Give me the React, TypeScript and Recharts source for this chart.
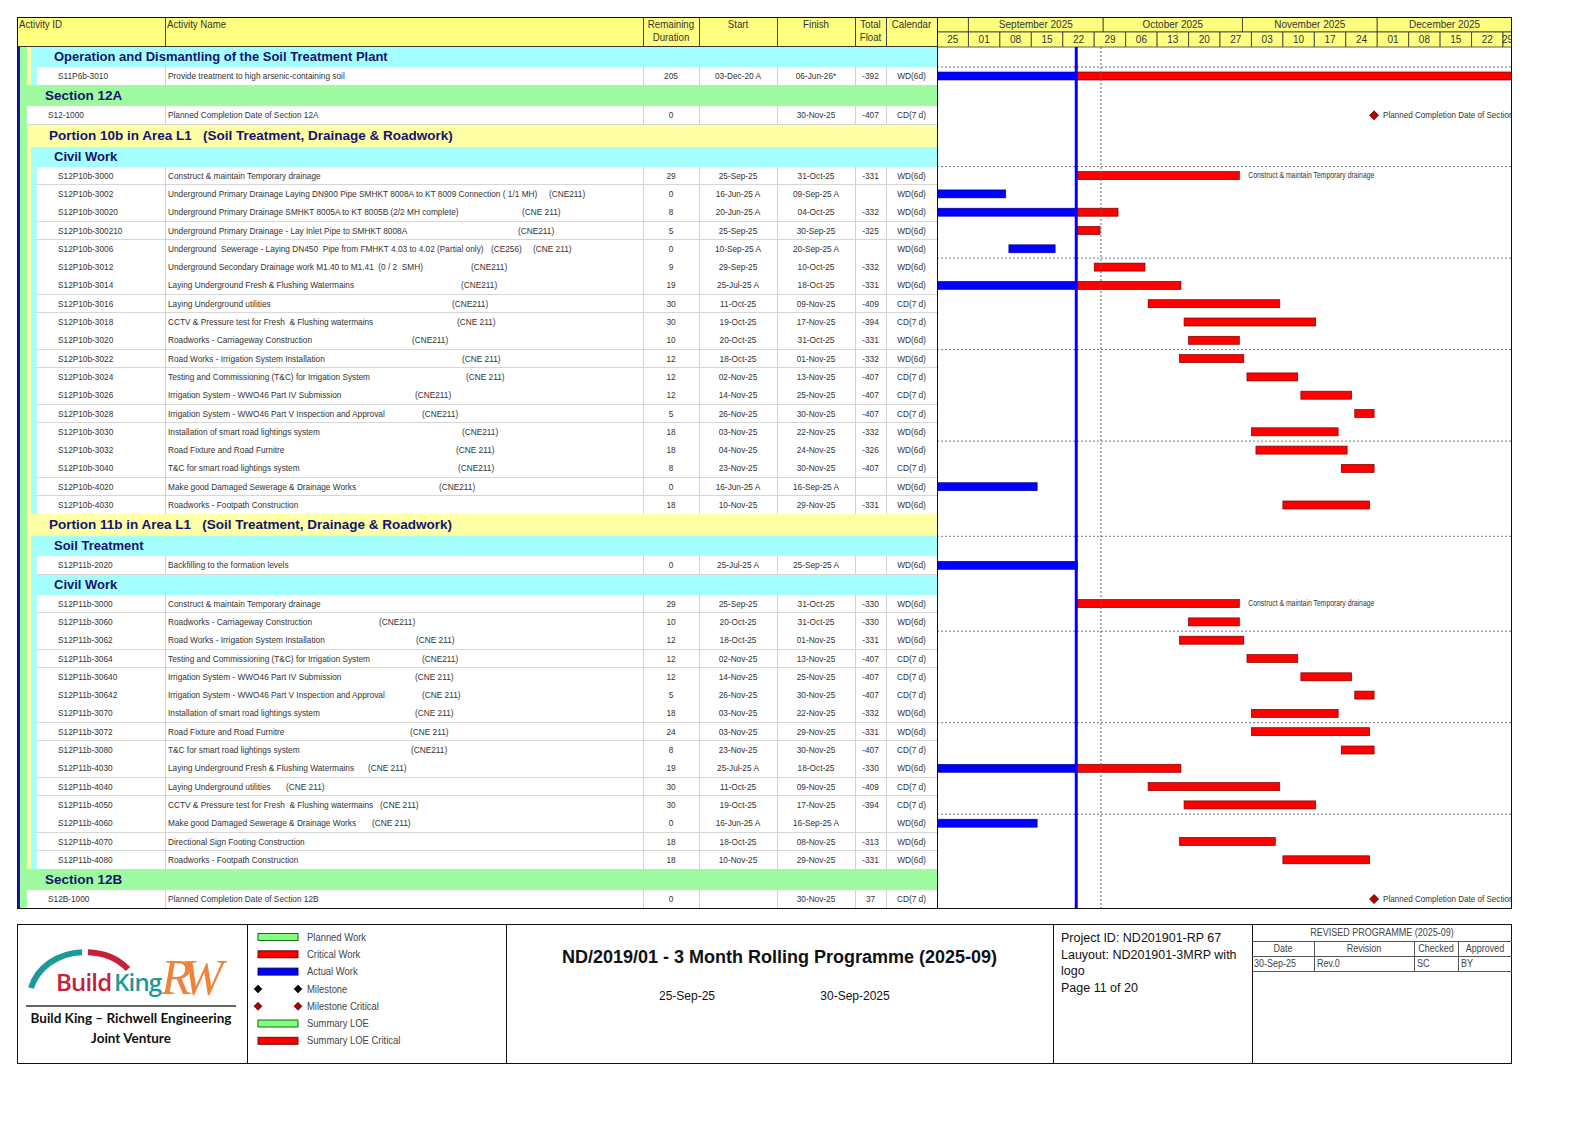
import React from 'react';
import { BarChart, Bar, XAxis, YAxis, ReferenceLine, ReferenceArea } from 'recharts';

type Activity = {
  id: string;
  name: string;
  tags?: string[];
  rem: number;
  start: string;
  finish: string;
  float: string;
  cal: string;
};
type Band = 'green' | 'yellow' | 'cyan';

// ---- timeline ----
const TIMELINE_START = '25-Aug-25';
const TIMELINE_DAYS = 128;
const DATA_DATE = '25-Sep-25';
const REPORT_DATE = '30-Sep-25';

const monthLabels = ['', 'September 2025', 'October 2025', 'November 2025', 'December 2025'];
const monthStarts = ['25-Aug-25', '01-Sep-25', '01-Oct-25', '01-Nov-25', '01-Dec-25'];
const weekLabels = ['25', '01', '08', '15', '22', '29', '06', '13', '20', '27', '03', '10', '17', '24', '01', '08', '15', '22', '29'];

// ---- activities ----
const operationActs: Activity[] = [
  { id: 'S11P6b-3010', name: 'Provide treatment to high arsenic-containing soil', rem: 205, start: '03-Dec-20 A', finish: '06-Jun-26*', float: '-392', cal: 'WD(6d)' },
];

const section12AActs: Activity[] = [
  { id: 'S12-1000', name: 'Planned Completion Date of Section 12A', rem: 0, start: '', finish: '30-Nov-25', float: '-407', cal: 'CD(7 d)' },
];

const p10bCivilActs: Activity[] = [
  { id: 'S12P10b-3000', name: 'Construct & maintain Temporary drainage', rem: 29, start: '25-Sep-25', finish: '31-Oct-25', float: '-331', cal: 'WD(6d)' },
  { id: 'S12P10b-3002', name: 'Underground Primary Drainage Laying DN900 Pipe SMHKT 8008A to KT 8009 Connection ( 1/1 MH)', tags: ['(CNE211)'], rem: 0, start: '16-Jun-25 A', finish: '09-Sep-25 A', float: '', cal: 'WD(6d)' },
  { id: 'S12P10b-30020', name: 'Underground Primary Drainage SMHKT 8005A to KT 8005B (2/2 MH complete)', tags: ['(CNE 211)'], rem: 8, start: '20-Jun-25 A', finish: '04-Oct-25', float: '-332', cal: 'WD(6d)' },
  { id: 'S12P10b-300210', name: 'Underground Primary Drainage - Lay Inlet Pipe to SMHKT 8008A', tags: ['(CNE211)'], rem: 5, start: '25-Sep-25', finish: '30-Sep-25', float: '-325', cal: 'WD(6d)' },
  { id: 'S12P10b-3006', name: 'Underground  Sewerage - Laying DN450  Pipe from FMHKT 4.03 to 4.02 (Partial only)', tags: ['(CE256)', '(CNE 211)'], rem: 0, start: '10-Sep-25 A', finish: '20-Sep-25 A', float: '', cal: 'WD(6d)' },
  { id: 'S12P10b-3012', name: 'Underground Secondary Drainage work M1.40 to M1.41  (0 / 2  SMH)', tags: ['(CNE211)'], rem: 9, start: '29-Sep-25', finish: '10-Oct-25', float: '-332', cal: 'WD(6d)' },
  { id: 'S12P10b-3014', name: 'Laying Underground Fresh & Flushing Watermains', tags: ['(CNE211)'], rem: 19, start: '25-Jul-25 A', finish: '18-Oct-25', float: '-331', cal: 'WD(6d)' },
  { id: 'S12P10b-3016', name: 'Laying Underground utilities', tags: ['(CNE211)'], rem: 30, start: '11-Oct-25', finish: '09-Nov-25', float: '-409', cal: 'CD(7 d)' },
  { id: 'S12P10b-3018', name: 'CCTV & Pressure test for Fresh  & Flushing watermains', tags: ['(CNE 211)'], rem: 30, start: '19-Oct-25', finish: '17-Nov-25', float: '-394', cal: 'CD(7 d)' },
  { id: 'S12P10b-3020', name: 'Roadworks - Carriageway Construction', tags: ['(CNE211)'], rem: 10, start: '20-Oct-25', finish: '31-Oct-25', float: '-331', cal: 'WD(6d)' },
  { id: 'S12P10b-3022', name: 'Road Works - Irrigation System Installation', tags: ['(CNE 211)'], rem: 12, start: '18-Oct-25', finish: '01-Nov-25', float: '-332', cal: 'WD(6d)' },
  { id: 'S12P10b-3024', name: 'Testing and Commissioning (T&C) for Irrigation System', tags: ['(CNE 211)'], rem: 12, start: '02-Nov-25', finish: '13-Nov-25', float: '-407', cal: 'CD(7 d)' },
  { id: 'S12P10b-3026', name: 'Irrigation System - WWO46 Part IV Submission', tags: ['(CNE211)'], rem: 12, start: '14-Nov-25', finish: '25-Nov-25', float: '-407', cal: 'CD(7 d)' },
  { id: 'S12P10b-3028', name: 'Irrigation System - WWO46 Part V Inspection and Approval', tags: ['(CNE211)'], rem: 5, start: '26-Nov-25', finish: '30-Nov-25', float: '-407', cal: 'CD(7 d)' },
  { id: 'S12P10b-3030', name: 'Installation of smart road lightings system', tags: ['(CNE211)'], rem: 18, start: '03-Nov-25', finish: '22-Nov-25', float: '-332', cal: 'WD(6d)' },
  { id: 'S12P10b-3032', name: 'Road Fixture and Road Furnitre', tags: ['(CNE 211)'], rem: 18, start: '04-Nov-25', finish: '24-Nov-25', float: '-326', cal: 'WD(6d)' },
  { id: 'S12P10b-3040', name: 'T&C for smart road lightings system', tags: ['(CNE211)'], rem: 8, start: '23-Nov-25', finish: '30-Nov-25', float: '-407', cal: 'CD(7 d)' },
  { id: 'S12P10b-4020', name: 'Make good Damaged Sewerage & Drainage Works', tags: ['(CNE211)'], rem: 0, start: '16-Jun-25 A', finish: '16-Sep-25 A', float: '', cal: 'WD(6d)' },
  { id: 'S12P10b-4030', name: 'Roadworks - Footpath Construction', rem: 18, start: '10-Nov-25', finish: '29-Nov-25', float: '-331', cal: 'WD(6d)' },
];

const p11bSoilActs: Activity[] = [
  { id: 'S12P11b-2020', name: 'Backfilling to the formation levels', rem: 0, start: '25-Jul-25 A', finish: '25-Sep-25 A', float: '', cal: 'WD(6d)' },
];

const p11bCivilActs: Activity[] = [
  { id: 'S12P11b-3000', name: 'Construct & maintain Temporary drainage', rem: 29, start: '25-Sep-25', finish: '31-Oct-25', float: '-330', cal: 'WD(6d)' },
  { id: 'S12P11b-3060', name: 'Roadworks - Carriageway Construction', tags: ['(CNE211)'], rem: 10, start: '20-Oct-25', finish: '31-Oct-25', float: '-330', cal: 'WD(6d)' },
  { id: 'S12P11b-3062', name: 'Road Works - Irrigation System Installation', tags: ['(CNE 211)'], rem: 12, start: '18-Oct-25', finish: '01-Nov-25', float: '-331', cal: 'WD(6d)' },
  { id: 'S12P11b-3064', name: 'Testing and Commissioning (T&C) for Irrigation System', tags: ['(CNE211)'], rem: 12, start: '02-Nov-25', finish: '13-Nov-25', float: '-407', cal: 'CD(7 d)' },
  { id: 'S12P11b-30640', name: 'Irrigation System - WWO46 Part IV Submission', tags: ['(CNE 211)'], rem: 12, start: '14-Nov-25', finish: '25-Nov-25', float: '-407', cal: 'CD(7 d)' },
  { id: 'S12P11b-30642', name: 'Irrigation System - WWO46 Part V Inspection and Approval', tags: ['(CNE 211)'], rem: 5, start: '26-Nov-25', finish: '30-Nov-25', float: '-407', cal: 'CD(7 d)' },
  { id: 'S12P11b-3070', name: 'Installation of smart road lightings system', tags: ['(CNE 211)'], rem: 18, start: '03-Nov-25', finish: '22-Nov-25', float: '-332', cal: 'WD(6d)' },
  { id: 'S12P11b-3072', name: 'Road Fixture and Road Furnitre', tags: ['(CNE 211)'], rem: 24, start: '03-Nov-25', finish: '29-Nov-25', float: '-331', cal: 'WD(6d)' },
  { id: 'S12P11b-3080', name: 'T&C for smart road lightings system', tags: ['(CNE211)'], rem: 8, start: '23-Nov-25', finish: '30-Nov-25', float: '-407', cal: 'CD(7 d)' },
  { id: 'S12P11b-4030', name: 'Laying Underground Fresh & Flushing Watermains', tags: ['(CNE 211)'], rem: 19, start: '25-Jul-25 A', finish: '18-Oct-25', float: '-330', cal: 'WD(6d)' },
  { id: 'S12P11b-4040', name: 'Laying Underground utilities', tags: ['(CNE 211)'], rem: 30, start: '11-Oct-25', finish: '09-Nov-25', float: '-409', cal: 'CD(7 d)' },
  { id: 'S12P11b-4050', name: 'CCTV & Pressure test for Fresh  & Flushing watermains', tags: ['(CNE 211)'], rem: 30, start: '19-Oct-25', finish: '17-Nov-25', float: '-394', cal: 'CD(7 d)' },
  { id: 'S12P11b-4060', name: 'Make good Damaged Sewerage & Drainage Works', tags: ['(CNE 211)'], rem: 0, start: '16-Jun-25 A', finish: '16-Sep-25 A', float: '', cal: 'WD(6d)' },
  { id: 'S12P11b-4070', name: 'Directional Sign Footing Construction', rem: 18, start: '18-Oct-25', finish: '08-Nov-25', float: '-313', cal: 'WD(6d)' },
  { id: 'S12P11b-4080', name: 'Roadworks - Footpath Construction', rem: 18, start: '10-Nov-25', finish: '29-Nov-25', float: '-331', cal: 'WD(6d)' },
];

const section12BActs: Activity[] = [
  { id: 'S12B-1000', name: 'Planned Completion Date of Section 12B', rem: 0, start: '', finish: '30-Nov-25', float: '37', cal: 'CD(7 d)' },
];

const outline: { band: Band; title: string; acts: Activity[] }[] = [
  { band: 'cyan', title: 'Operation and Dismantling of the Soil Treatment Plant', acts: operationActs },
  { band: 'green', title: 'Section 12A', acts: section12AActs },
  { band: 'yellow', title: 'Portion 10b in Area L1   (Soil Treatment, Drainage & Roadwork)', acts: [] },
  { band: 'cyan', title: 'Civil Work', acts: p10bCivilActs },
  { band: 'yellow', title: 'Portion 11b in Area L1   (Soil Treatment, Drainage & Roadwork)', acts: [] },
  { band: 'cyan', title: 'Soil Treatment', acts: p11bSoilActs },
  { band: 'cyan', title: 'Civil Work', acts: p11bCivilActs },
  { band: 'green', title: 'Section 12B', acts: section12BActs },
];

// activities whose bar carries its name in the gantt
const barLabelIds = ['S12-1000', 'S12P10b-3000', 'S12P11b-3000', 'S12B-1000'];

const legendItems = ['Planned Work', 'Critical Work', 'Actual Work', 'Milestone', 'Milestone Critical', 'Summary LOE', 'Summary LOE Critical'];

// ---- layout (page px) ----
const NARROW = "'Liberation Sans Narrow', 'Arial Narrow', 'Liberation Sans', Arial, sans-serif";
const ARIAL = "'Liberation Sans', Arial, sans-serif";
const FRAME_X = 17;
const FRAME_Y = 17;
const FRAME_R = 1512;
const FRAME_B = 909;
const HEADER_H = 30;
const BODY_TOP = FRAME_Y + HEADER_H;
const GANTT_X = 937;
const ACT_H = 18.3;
const BAR_H = 8;
const COL_LINES = [165, 643, 699, 777, 855, 886];
const NAVY = '#141470';
const TXT_SX = 0.92;

const BAND_STYLE: Record<Band, { h: number; x: number; textX: number; size: number; bg: string }> = {
  green: { h: 21, x: 20, textX: 45, size: 13.5, bg: '#9ffb9f' },
  yellow: { h: 22, x: 27, textX: 49, size: 13.5, bg: '#ffffa6' },
  cyan: { h: 20, x: 31, textX: 54, size: 13, bg: '#a6ffff' },
};
const STRIPS = [
  { x0: 17, x1: 20, bg: '#1a1a9a' },
  { x0: 20, x1: 27, bg: '#9ffb9f' },
  { x0: 27, x1: 31, bg: '#ffffa6' },
  { x0: 31, x1: 37, bg: '#a6ffff' },
];
const TAG_X: Record<string, number[]> = {
  'S12P10b-3002': [549], 'S12P10b-30020': [522], 'S12P10b-300210': [518], 'S12P10b-3006': [491, 533],
  'S12P10b-3012': [471], 'S12P10b-3014': [461], 'S12P10b-3016': [452], 'S12P10b-3018': [457],
  'S12P10b-3020': [412], 'S12P10b-3022': [462], 'S12P10b-3024': [466], 'S12P10b-3026': [415],
  'S12P10b-3028': [422], 'S12P10b-3030': [462], 'S12P10b-3032': [456], 'S12P10b-3040': [458],
  'S12P10b-4020': [439],
  'S12P11b-3060': [379], 'S12P11b-3062': [416], 'S12P11b-3064': [422], 'S12P11b-30640': [415],
  'S12P11b-30642': [422], 'S12P11b-3070': [415], 'S12P11b-3072': [410], 'S12P11b-3080': [411],
  'S12P11b-4030': [368], 'S12P11b-4040': [286], 'S12P11b-4050': [380], 'S12P11b-4060': [372],
};

// ---- date helpers ----
const MONTHS = ['Jan', 'Feb', 'Mar', 'Apr', 'May', 'Jun', 'Jul', 'Aug', 'Sep', 'Oct', 'Nov', 'Dec'];
function utc(s: string): number {
  const m = /(\d{1,2})-([A-Za-z]{3})-(\d{2})/.exec(s);
  if (!m) return NaN;
  return Date.UTC(2000 + Number(m[3]), MONTHS.indexOf(m[2]), Number(m[1]));
}
const DAY0 = utc(TIMELINE_START);
const dayOf = (s: string) => Math.round((utc(s) - DAY0) / 86400000);
const FINISH_OFFSET = 0.3;
const dd = dayOf(DATA_DATE);

function spans(a: Activity) {
  const f = dayOf(a.finish) + FINISH_OFFSET;
  if (!a.start) return { ms: [f, f] };
  const s = dayOf(a.start);
  const sAct = /A$/.test(a.start);
  const fAct = /A$/.test(a.finish);
  if (sAct && fAct) return { act: [s, f] };
  if (sAct) return { act: [s, dd], rem: [dd, f] };
  return { rem: [s, f] };
}

// ---- row layout ----
type Laid = { kind: 'band' | 'act'; band: Band; title?: string; act?: Activity; top: number; h: number };
const laid: Laid[] = [];
{
  let y = BODY_TOP;
  for (const sec of outline) {
    const bs = BAND_STYLE[sec.band];
    laid.push({ kind: 'band', band: sec.band, title: sec.title, top: y, h: bs.h });
    y += bs.h;
    for (const a of sec.acts) {
      laid.push({ kind: 'act', band: sec.band, act: a, top: y, h: ACT_H });
      y += ACT_H;
    }
  }
}
const rowStart = (r: Laid) => (r.kind === 'band' ? BAND_STYLE[r.band].x : r.band === 'green' ? 27 : 37);

const ganttData = laid.map((r) => ({
  yc: r.top + r.h / 2,
  ...(r.act ? spans(r.act) : {}),
  label: r.act && barLabelIds.includes(r.act.id) ? r.act.name : undefined,
}));
const sightLines = laid.filter((_, i) => i % 5 === 1).map((r) => r.top);

// ---- small helpers ----
function Box(p: { x: number; y: number; w: number; h: number; style?: React.CSSProperties; children?: React.ReactNode }) {
  return (
    <div style={{ position: 'absolute', left: p.x, top: p.y, width: p.w, height: p.h, boxSizing: 'border-box', ...p.style }}>
      {p.children}
    </div>
  );
}
function Txt(p: {
  x: number; y: number; w?: number; h: number; align?: 'left' | 'center'; size?: number; bold?: boolean;
  color?: string; font?: string; sx?: number; children: React.ReactNode;
}) {
  const align = p.align || 'left';
  return (
    <div
      style={{
        position: 'absolute', left: p.x, top: p.y, width: p.w, height: p.h, lineHeight: `${p.h}px`,
        textAlign: align, fontSize: p.size || 9, fontWeight: p.bold ? 700 : 400,
        color: p.color || '#333', fontFamily: p.font || NARROW, whiteSpace: 'pre',
        transform: p.sx ? `scaleX(${p.sx})` : undefined,
        transformOrigin: align === 'left' ? 'left center' : 'center center',
      }}
    >
      {p.children}
    </div>
  );
}

// ---- gantt shapes ----
function SmallText(p: { x: number; y: number; text: string; sx: number }) {
  return (
    <text transform={`translate(${p.x},${p.y}) scale(${p.sx},1)`} dominantBaseline="central" fontSize={9} fill="#333" fontFamily={NARROW}>
      {p.text}
    </text>
  );
}
function ActualShape(p: any) {
  const { x, y, width, height } = p;
  if (!(width > 0) || !Number.isFinite(x) || !Number.isFinite(y)) return <g />;
  return <rect x={x} y={y} width={width} height={height} fill="#0000ff" stroke="#00007a" strokeWidth={0.6} />;
}
function RemainingShape(p: any) {
  const { x, y, width, height, payload } = p;
  if (!(width > 0) || !Number.isFinite(x) || !Number.isFinite(y)) return <g />;
  return (
    <g>
      <rect x={x} y={y} width={width} height={height} fill="#ff0000" stroke="#7a0000" strokeWidth={0.7} />
      {payload && payload.label ? <SmallText x={x + width + 9} y={y + height / 2} text={payload.label} sx={0.76} /> : null}
    </g>
  );
}
function MilestoneShape(p: any) {
  const { x, y, height, payload } = p;
  if (!payload || !payload.ms || !Number.isFinite(x) || !Number.isFinite(y)) return <g />;
  const cy = y + height / 2;
  const r = 4.5;
  return (
    <g>
      <path d={`M${x},${cy - r}L${x + r},${cy}L${x},${cy + r}L${x - r},${cy}Z`} fill="#c00000" stroke="#3a0000" strokeWidth={0.8} />
      {payload.label ? <SmallText x={x + 9} y={cy} text={payload.label} sx={0.9} /> : null}
    </g>
  );
}

function Gantt() {
  const monthDays = monthStarts.map(dayOf);
  const headerLabel = (value: string) => ({ value, position: 'center' as const, fontSize: 10, fill: '#333', fontFamily: NARROW });
  return (
    <BarChart
      width={FRAME_R - GANTT_X}
      height={FRAME_B - FRAME_Y}
      data={ganttData}
      layout="vertical"
      margin={{ top: 0, right: 0, bottom: 0, left: 0 }}
      barGap={-BAR_H}
    >
      <XAxis type="number" domain={[0, TIMELINE_DAYS]} allowDataOverflow hide />
      <YAxis type="number" dataKey="yc" domain={[FRAME_Y, FRAME_B]} allowDataOverflow hide />
      {monthDays.map((d, i) => (
        <ReferenceArea
          key={`m${i}`}
          x1={d}
          x2={Math.min(i + 1 < monthDays.length ? monthDays[i + 1] : TIMELINE_DAYS, TIMELINE_DAYS)}
          y1={FRAME_Y}
          y2={FRAME_Y + 15}
          fill="#ffff80"
          fillOpacity={1}
          stroke="#333"
          strokeWidth={0.8}
          ifOverflow="visible"
          label={headerLabel(monthLabels[i])}
        />
      ))}
      {weekLabels.map((w, i) => (
        <ReferenceArea
          key={`w${i}`}
          x1={i * 7}
          x2={Math.min(i * 7 + 7, TIMELINE_DAYS)}
          y1={FRAME_Y + 15}
          y2={BODY_TOP}
          fill="#ffff80"
          fillOpacity={1}
          stroke="#333"
          strokeWidth={0.8}
          ifOverflow="visible"
          label={headerLabel(w)}
        />
      ))}
      {sightLines.map((y, i) => (
        <ReferenceLine key={`s${i}`} y={y} stroke="#777" strokeDasharray="2 2" strokeWidth={1} ifOverflow="visible" />
      ))}
      <ReferenceLine
        segment={[{ x: dayOf(REPORT_DATE) + 0.5, y: BODY_TOP }, { x: dayOf(REPORT_DATE) + 0.5, y: FRAME_B }]}
        stroke="#666"
        strokeDasharray="2 2"
        strokeWidth={1}
        ifOverflow="visible"
      />
      <Bar dataKey="act" barSize={BAR_H} shape={ActualShape} isAnimationActive={false} />
      <Bar dataKey="rem" barSize={BAR_H} shape={RemainingShape} isAnimationActive={false} />
      <Bar dataKey="ms" barSize={BAR_H} shape={MilestoneShape} isAnimationActive={false} />
      <ReferenceLine
        segment={[{ x: dd, y: BODY_TOP }, { x: dd, y: FRAME_B }]}
        stroke="#0000ff"
        strokeWidth={3}
        ifOverflow="visible"
      />
    </BarChart>
  );
}

function TableHeader() {
  const hs = 11;
  const sx = 0.88;
  return (
    <>
      <Box x={FRAME_X} y={FRAME_Y} w={GANTT_X - FRAME_X} h={HEADER_H} style={{ background: '#ffff80', borderBottom: '1px solid #333' }} />
      {COL_LINES.map((x) => (
        <Box key={x} x={x} y={FRAME_Y} w={1} h={HEADER_H} style={{ background: '#444' }} />
      ))}
      <Txt x={19} y={18} h={13} size={hs} sx={sx}>Activity ID</Txt>
      <Txt x={167} y={18} h={13} size={hs} sx={sx}>Activity Name</Txt>
      <Txt x={643} y={18} w={56} h={13} size={hs} sx={sx} align="center">Remaining</Txt>
      <Txt x={643} y={31} w={56} h={13} size={hs} sx={sx} align="center">Duration</Txt>
      <Txt x={699} y={18} w={78} h={13} size={hs} sx={sx} align="center">Start</Txt>
      <Txt x={777} y={18} w={78} h={13} size={hs} sx={sx} align="center">Finish</Txt>
      <Txt x={855} y={18} w={31} h={13} size={hs} sx={sx} align="center">Total</Txt>
      <Txt x={855} y={31} w={31} h={13} size={hs} sx={sx} align="center">Float</Txt>
      <Txt x={886} y={18} w={51} h={13} size={hs} sx={sx} align="center">Calendar</Txt>
    </>
  );
}

function TableBody() {
  return (
    <>
      {laid.map((r, i) => {
        const x0 = rowStart(r);
        const strips = STRIPS.filter((s) => s.x1 <= x0).map((s) => (
          <Box key={`st${i}-${s.x0}`} x={s.x0} y={r.top} w={s.x1 - s.x0} h={r.h + 0.5} style={{ background: s.bg }} />
        ));
        if (r.kind === 'band') {
          const bs = BAND_STYLE[r.band];
          return (
            <React.Fragment key={i}>
              {strips}
              <Box x={x0} y={r.top} w={GANTT_X - x0} h={r.h + 0.5} style={{ background: bs.bg }} />
              <Txt x={bs.textX} y={r.top} h={r.h} size={bs.size} bold color={NAVY} font={ARIAL}>
                {r.title}
              </Txt>
            </React.Fragment>
          );
        }
        const a = r.act as Activity;
        const tagX = TAG_X[a.id] || [];
        const cy = r.top;
        return (
          <React.Fragment key={i}>
            {strips}
            <Box x={x0} y={r.top} w={GANTT_X - x0} h={r.h + 0.5} style={{ background: '#fff', borderBottom: '1px solid #d6d6d6' }} />
            {COL_LINES.map((x) => (
              <Box key={`c${x}`} x={x} y={r.top} w={1} h={r.h} style={{ background: '#d2d2d2' }} />
            ))}
            <Txt x={r.band === 'green' ? 48 : 58} y={cy} h={r.h} sx={TXT_SX}>{a.id}</Txt>
            <Txt x={168} y={cy} h={r.h} sx={TXT_SX}>{a.name}</Txt>
            {(a.tags || []).map((t, k) => (
              <Txt key={k} x={tagX[k] || 500} y={cy} h={r.h} sx={TXT_SX}>{t}</Txt>
            ))}
            <Txt x={643} y={cy} w={56} h={r.h} sx={TXT_SX} align="center">{String(a.rem)}</Txt>
            <Txt x={699} y={cy} w={78} h={r.h} sx={TXT_SX} align="center">{a.start}</Txt>
            <Txt x={777} y={cy} w={78} h={r.h} sx={TXT_SX} align="center">{a.finish}</Txt>
            <Txt x={855} y={cy} w={31} h={r.h} sx={TXT_SX} align="center">{a.float}</Txt>
            <Txt x={886} y={cy} w={51} h={r.h} sx={TXT_SX} align="center">{a.cal}</Txt>
          </React.Fragment>
        );
      })}
    </>
  );
}

function Logo() {
  return (
    <svg width={230} height={140} style={{ position: 'absolute', left: FRAME_X, top: 924 }}>
      <g transform="translate(-17,-924)">
        <path d="M 31 988 A 55 48 0 0 1 82 952.2" fill="none" stroke="#1b9a9a" strokeWidth={6} />
        <path d="M 88 952.2 A 55 48 0 0 1 128 969" fill="none" stroke="#c8203c" strokeWidth={6} />
        <text x={56} y={991} fontSize={24} fontWeight={600} fill="#c8203c" fontFamily="'Open Sans', Arial, sans-serif" letterSpacing={-0.8}>
          Build
        </text>
        <text x={114} y={991} fontSize={24} fontWeight={600} fill="#1b9a9a" fontFamily="'Open Sans', Arial, sans-serif" letterSpacing={-0.8}>
          King
        </text>
        <text x={161} y={994} fontSize={50} fontStyle="italic" fill="#f0823a" fontFamily="'Liberation Serif', 'DejaVu Serif', serif" letterSpacing={-9}>
          RW
        </text>
        <line x1={26} y1={1006} x2={236} y2={1006} stroke="#333" strokeWidth={1.3} />
        <text x={131} y={1023} fontSize={13.5} fontWeight={700} fill="#111" textAnchor="middle" fontFamily="Lato, 'Open Sans', Arial, sans-serif">
          Build King – Richwell Engineering
        </text>
        <text x={131} y={1043} fontSize={13.5} fontWeight={700} fill="#111" textAnchor="middle" fontFamily="Lato, 'Open Sans', Arial, sans-serif">
          Joint Venture
        </text>
      </g>
    </svg>
  );
}

function Legend() {
  const swatch: Record<string, string> = {
    'Planned Work': '#80ff80', 'Critical Work': '#ff0000', 'Actual Work': '#0000ff',
    'Summary LOE': '#80ff80', 'Summary LOE Critical': '#ff0000',
  };
  const border: Record<string, string> = { '#80ff80': '#006000', '#ff0000': '#600000', '#0000ff': '#000060' };
  return (
    <svg width={258} height={140} style={{ position: 'absolute', left: 248, top: 924 }}>
      {legendItems.map((t, i) => {
        const cy = 13 + i * 17.3;
        const fill = swatch[t];
        const dia = (cx: number, c: string) => (
          <path d={`M${cx},${cy - 4}L${cx + 4},${cy}L${cx},${cy + 4}L${cx - 4},${cy}Z`} fill={c} stroke="#000" strokeWidth={0.6} />
        );
        return (
          <g key={t}>
            {fill ? (
              <rect x={10} y={cy - 3.5} width={40} height={7} fill={fill} stroke={border[fill]} strokeWidth={0.9} />
            ) : (
              <>
                {dia(10, t === 'Milestone' ? '#000' : '#b00000')}
                {dia(50, t === 'Milestone' ? '#000' : '#b00000')}
              </>
            )}
            <text transform={`translate(59,${cy}) scale(0.9,1)`} dominantBaseline="central" fontSize={10.5} fill="#444" fontFamily={NARROW}>
              {t}
            </text>
          </g>
        );
      })}
    </svg>
  );
}

function Footer() {
  const top = 924;
  const h = 140;
  const line = (x: number) => <Box key={x} x={x} y={top} w={1.2} h={h} style={{ background: '#111' }} />;
  return (
    <>
      <Box x={FRAME_X} y={top} w={FRAME_R - FRAME_X} h={h} style={{ border: '1.5px solid #111' }} />
      {[247, 506, 1053, 1252].map(line)}
      <Logo />
      <Legend />
      <Txt x={506} y={946} w={547} h={22} size={18} bold color="#111" font={ARIAL} align="center">
        ND/2019/01 - 3 Month Rolling Programme (2025-09)
      </Txt>
      <Txt x={647} y={988} w={80} h={16} size={12} color="#111" align="center">25-Sep-25</Txt>
      <Txt x={805} y={988} w={100} h={16} size={12} color="#111" align="center">30-Sep-2025</Txt>
      <Txt x={1061} y={930} h={16} size={12.5} color="#111">Project ID: ND201901-RP 67</Txt>
      <Txt x={1061} y={946.5} h={16} size={12.5} color="#111">Lauyout: ND201901-3MRP with</Txt>
      <Txt x={1061} y={963} h={16} size={12.5} color="#111">logo</Txt>
      <Txt x={1061} y={979.5} h={16} size={12.5} color="#111">Page 11 of 20</Txt>
      <Txt x={1252} y={925} w={260} h={15} size={10} color="#444" align="center" sx={0.9}>REVISED PROGRAMME (2025-09)</Txt>
      <Box x={1252} y={941} w={260} h={1} style={{ background: '#555' }} />
      <Box x={1252} y={956} w={260} h={1} style={{ background: '#555' }} />
      <Box x={1252} y={971} w={260} h={1} style={{ background: '#555' }} />
      {[1314, 1414, 1458].map((x) => (
        <Box key={x} x={x} y={941} w={1} h={30} style={{ background: '#555' }} />
      ))}
      <Txt x={1252} y={941} w={62} h={15} size={10} color="#444" align="center" sx={0.9}>Date</Txt>
      <Txt x={1314} y={941} w={100} h={15} size={10} color="#444" align="center" sx={0.9}>Revision</Txt>
      <Txt x={1414} y={941} w={44} h={15} size={10} color="#444" align="center" sx={0.9}>Checked</Txt>
      <Txt x={1458} y={941} w={54} h={15} size={10} color="#444" align="center" sx={0.9}>Approved</Txt>
      <Txt x={1254} y={956} h={15} size={10} color="#444" sx={0.9}>30-Sep-25</Txt>
      <Txt x={1317} y={956} h={15} size={10} color="#444" sx={0.9}>Rev.0</Txt>
      <Txt x={1417} y={956} h={15} size={10} color="#444" sx={0.9}>SC</Txt>
      <Txt x={1461} y={956} h={15} size={10} color="#444" sx={0.9}>BY</Txt>
    </>
  );
}

export default function App() {
  return (
    <div style={{ position: 'absolute', left: 0, top: 0, width: 1588, height: 1123, background: '#fff', overflow: 'hidden', fontFamily: NARROW }}>
      <TableHeader />
      <TableBody />
      <div style={{ position: 'absolute', left: GANTT_X, top: FRAME_Y }}>
        <Gantt />
      </div>
      <Box x={GANTT_X - 0.5} y={FRAME_Y} w={1.5} h={FRAME_B - FRAME_Y} style={{ background: '#111' }} />
      <Box x={FRAME_X} y={FRAME_Y} w={FRAME_R - FRAME_X} h={FRAME_B - FRAME_Y} style={{ border: '1.5px solid #111' }} />
      <Footer />
    </div>
  );
}
